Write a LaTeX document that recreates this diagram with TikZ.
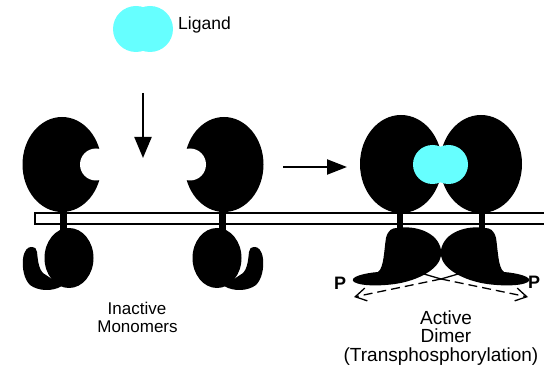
\documentclass[tikz,border=0pt]{standalone}
\usepackage{fontspec}
\setmainfont{Liberation Sans}
\usetikzlibrary{arrows.meta}
\definecolor{ligandcyan}{RGB}{102,255,255}

\tikzset{
  blobfill/.style={fill=black},
  ligandfill/.style={fill=ligandcyan},
  membrane/.style={draw=black, line width=1.1pt, fill=white},
  bigarrow/.style={draw=black, line width=2.2pt},
  phosline/.style={draw=black, line width=1.3pt},
  phosdash/.style={draw=black, line width=1.3pt, dash pattern=on 9pt off 5pt,
    -{Straight Barb[length=11pt,width=13pt,line width=1.3pt]}},
  lefttext/.style={font=\fontsize{17}{18}\selectfont, align=center},
  righttext/.style={font=\fontsize{19}{18.5}\selectfont, align=center},
  plabel/.style={font=\fontsize{18}{18}\selectfont\bfseries, anchor=base},
  % receptor monomer with open ligand pocket
  monomer/.pic={
    \fill[blobfill] (62,164.5) ellipse [x radius=39.5pt, y radius=47.5pt];
    \fill[white] (96,164.5) circle [radius=16pt];
    \fill[blobfill] (60,205) rectangle (67,232);
    \fill[blobfill] (69,258) ellipse [x radius=24.5pt, y radius=30pt];
    \fill[blobfill] (37,252) .. controls (38,262) and (39,272) .. (46,275)
      -- (62,286) .. controls (52,292) and (38,291) .. (30,285)
      .. controls (24,279) and (22,268) .. (23,259)
      .. controls (24,250) and (28,247) .. (31,247)
      .. controls (35,247) and (37,249) .. (37,252) -- cycle;
  },
  % one half of the activated dimer
  dimerhalf/.pic={
    \fill[blobfill] (401,164) ellipse [x radius=41pt, y radius=49pt];
    \fill[blobfill] (397,205) rectangle (403,230);
    \fill[blobfill] (397,228) .. controls (415,225) and (438,232) .. (441,250)
      .. controls (444,265) and (425,277) .. (405,282)
      .. controls (390,286) and (362,287) .. (354,282)
      .. controls (348,277) and (365,273) .. (378,272)
      .. controls (384,268) and (384,250) .. (386,238)
      .. controls (388,230) and (392,228) .. (397,228) -- cycle;
  }
}

\begin{document}
\begin{tikzpicture}[x=1pt, y=-1pt]
\useasboundingbox (0,0) rectangle (544,366);
\clip (0,0) rectangle (544,366);

% free ligand
\fill[ligandfill] (136,29) circle [radius=23pt];
\fill[ligandfill] (150,29) circle [radius=23pt];
\node[anchor=base west, font=\fontsize{17.5}{18}\selectfont, inner sep=0pt] (ligtext) at (178,30) {Ligand};

% membrane
\draw[membrane] (35,213) rectangle (560,224);

% inactive monomers
\pic at (0,0) {monomer};
\pic[xscale=-1] at (286,0) {monomer};

% active dimer with bound ligand
\pic at (0,0) {dimerhalf};
\pic[xscale=-1] at (882,0) {dimerhalf};
\fill[ligandfill] (432.5,164.5) circle [radius=19.5pt];
\fill[ligandfill] (448.5,164.5) circle [radius=19.5pt];

% binding and dimerisation arrows
\coordinate (downtail) at (143,93);
\coordinate (downtip) at (143,158);
\draw[bigarrow, -{Triangle[length=21pt,width=17pt]}] (downtail) -- (downtip);
\coordinate (righttail) at (283,167);
\coordinate (righttip) at (347,167);
\draw[bigarrow, -{Triangle[length=20pt,width=15pt]}] (righttail) -- (righttip);

% transphosphorylation arrows
\coordinate (lstart) at (417,272);
\coordinate (rstart) at (465,272);
\coordinate (cross) at (441,279);
\coordinate (ltip) at (354,297);
\coordinate (rtip) at (528,297);
\draw[phosline] (lstart) -- (cross);
\draw[phosline] (rstart) -- (cross);
\draw[phosdash] (cross) -- (ltip);
\draw[phosdash] (cross) -- (rtip);
\node[plabel] (pl) at (340,290) {P};
\node[plabel] (pr) at (534,289) {P};

% labels
\node[lefttext, anchor=base] (inact) at (137,315) {Inactive};
\node[lefttext, anchor=base] (mono) at (137.5,333) {Monomers};
\node[righttext, anchor=base] (act) at (446,325) {Active};
\node[righttext, anchor=base] (dim) at (446,343) {Dimer};
\node[righttext, anchor=base] (trans) at (441,361) {(Transphosphorylation)};
\end{tikzpicture}
\end{document}
